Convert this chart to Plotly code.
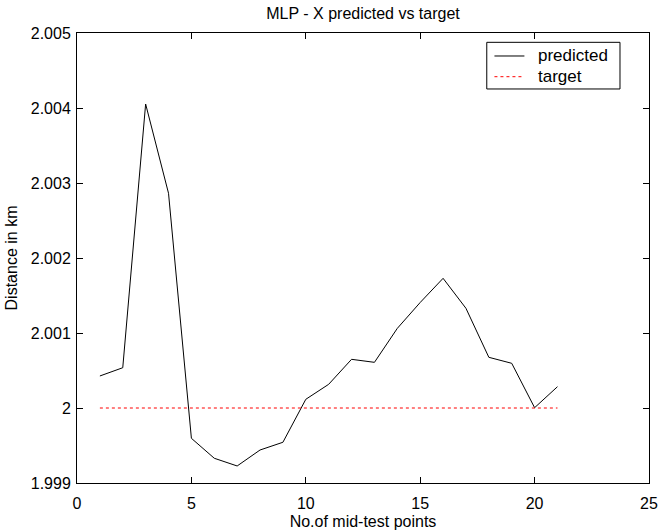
import plotly.graph_objects as go

x_points = list(range(1, 22))
predicted = [2.000427, 2.000537, 2.004053, 2.002863, 1.999596, 1.999330, 1.999227,
             1.999440, 1.999543, 2.000116, 2.000316, 2.000649, 2.000609, 2.001062,
             2.001407, 2.001729, 2.001329, 2.000676, 2.000596, 2.000004, 2.000284]
target = [2.0] * 21

y_tickvals = [1.999, 2.0, 2.001, 2.002, 2.003, 2.004, 2.005]
y_ticktext = ["1.999", "2", "2.001", "2.002", "2.003", "2.004", "2.005"]
x_tickvals = [0, 5, 10, 15, 20, 25]

FONT = "Liberation Sans, Arial, sans-serif"

series = [
    dict(name="predicted", y=predicted, line=dict(color="black", width=1)),
    dict(name="target", y=target, line=dict(color="red", width=1, dash="3px,3px")),
]

fig = go.Figure()
for s in series:
    fig.add_trace(go.Scatter(x=x_points, y=s["y"], mode="lines", name=s["name"],
                             line=s["line"], showlegend=False))

axis_common = dict(showline=True, linecolor="black", linewidth=1, mirror="ticks",
                   ticks="inside", ticklen=6, tickcolor="black", showgrid=False,
                   zeroline=False, automargin=False,
                   tickfont=dict(family=FONT, size=16, color="black"))

# Manual legend box (MATLAB style), in paper coordinates
leg_x0, leg_x1, leg_y0, leg_y1 = 0.7164, 0.9493, 0.8756, 0.9793
row_y = [0.9489, 0.9029]
line_x0, line_x1, text_x = 0.7298, 0.7822, 0.8026

shapes = [dict(type="rect", xref="paper", yref="paper", x0=leg_x0, x1=leg_x1,
               y0=leg_y0, y1=leg_y1, line=dict(color="black", width=1),
               fillcolor="white", layer="above")]
annotations = []
for s, ry in zip(series, row_y):
    shapes.append(dict(type="line", xref="paper", yref="paper", x0=line_x0, x1=line_x1,
                       y0=ry, y1=ry, line=dict(color=s["line"]["color"], width=1,
                                               dash=s["line"].get("dash", "solid")),
                       layer="above"))
    annotations.append(dict(text=s["name"], xref="paper", yref="paper", x=text_x, y=ry,
                            xanchor="left", yanchor="middle", showarrow=False,
                            font=dict(family=FONT, size=17, color="black")))

fig.update_layout(
    width=658, height=531,
    margin=dict(l=77, r=9, t=33, b=48),
    paper_bgcolor="white", plot_bgcolor="white",
    font=dict(family=FONT, size=16, color="black"),
    title=dict(text="MLP - X predicted vs target", x=0.5, xref="paper",
               y=1 - 13 / 531, yref="container", yanchor="middle", xanchor="center",
               font=dict(family=FONT, size=16, color="black")),
    xaxis=dict(range=[0, 25], tickvals=x_tickvals, ticklabelstandoff=6,
               title=dict(text="No.of mid-test points", standoff=4,
                          font=dict(family=FONT, size=16)),
               **axis_common),
    yaxis=dict(range=[1.999, 2.005], tickvals=y_tickvals, ticktext=y_ticktext,
               ticklabelstandoff=2,
               title=dict(text="Distance in km", standoff=9,
                          font=dict(family=FONT, size=16)),
               **axis_common),
    shapes=shapes,
    annotations=annotations,
    showlegend=False,
)

fig.write_html("out.html")
